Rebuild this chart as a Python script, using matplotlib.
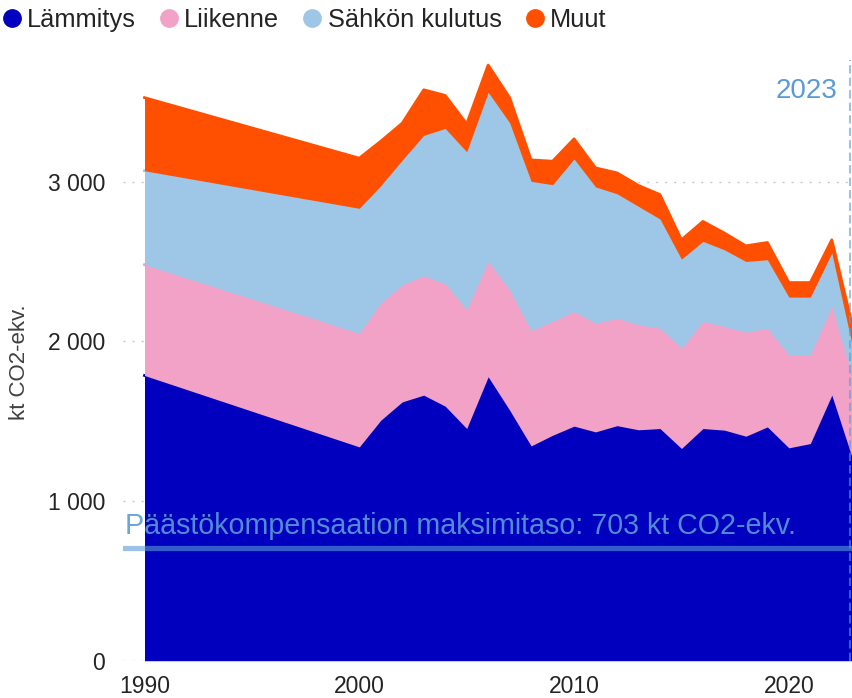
# Stacked area chart of emissions by sector (kt CO2-ekv.)

import numpy as np
import matplotlib.pyplot as plt
from matplotlib.lines import Line2D

plt.rcParams['font.family'] = ['Liberation Sans', 'DejaVu Sans']

years = [1990, 2000, 2001, 2002, 2003, 2004, 2005, 2006, 2007, 2008, 2009, 2010, 2011,
         2012, 2013, 2014, 2015, 2016, 2017, 2018, 2019, 2020, 2021, 2022, 2023]
lammitys = [1786, 1339, 1506, 1621, 1663, 1594, 1454, 1778, 1569, 1345, 1412, 1469, 1433,
            1472, 1446, 1454, 1329, 1454, 1444, 1406, 1464, 1333, 1360, 1663, 1250]
liikenne = [694, 711, 733, 733, 747, 766, 743, 722, 753, 722, 712, 717, 680,
            673, 657, 628, 627, 670, 648, 651, 618, 581, 554, 555, 507]
sahkon_kulutus = [588, 783, 736, 781, 880, 973, 990, 1060, 1047, 935, 857, 956, 854,
                  779, 742, 684, 559, 502, 481, 443, 429, 363, 363, 335, 189]
muut = [458, 314, 278, 231, 285, 207, 175, 170, 157, 134, 147, 126, 119,
        131, 131, 153, 121, 125, 105, 98, 108, 91, 91, 83, 130]

series = ['Lämmitys', 'Liikenne', 'Sähkön kulutus', 'Muut']
colors = ['#0000BE', '#F3A2C7', '#9DC6E7', '#FE5000']

kompensaatio = 703      # max level of emission compensation
marker_year = 2023

fig = plt.figure(figsize=(8.52, 6.98), dpi=100)
ax = fig.add_axes([0.1444, 0.0534, 0.8556, 0.8607])

x = np.array(years)
data = np.array([lammitys, liikenne, sahkon_kulutus, muut], dtype=float)
tops = np.cumsum(data, axis=0)

# Dotted grid behind the areas
for v in [0, 1000, 2000, 3000]:
    ax.axhline(v, color='#C8C8C8', lw=1, linestyle=(0, (1.5, 5)), zorder=0)

bottom = np.zeros(len(years))
for k in range(4):
    ax.fill_between(x, bottom, tops[k], color=colors[k], lw=0, zorder=1 + k)
    ax.plot(x, tops[k], color=colors[k], lw=2, zorder=1 + k, solid_joinstyle='round')
    bottom = tops[k]

# Reference line
ax.axhline(kompensaatio, color='#5B9BD5', alpha=0.6, lw=3.8, zorder=10)
ax.text(1989.1, 791, f'Päästökompensaation maksimitaso: {kompensaatio} kt CO2-ekv.',
        color='#5B9BD5', alpha=0.9, fontsize=20.6, va='baseline', ha='left', zorder=11)

# Year marker
ax.axvline(2022.85, color='#5B9BD5', alpha=0.6, lw=1.5, linestyle=(0, (4, 2)), zorder=10)
ax.text(2022.28, 3565, str(marker_year), color='#5B9BD5', fontsize=20,
        ha='right', va='center', zorder=11)

ax.set_xlim(1989, 2022.94)
ax.set_ylim(0, 3762)
ax.set_xticks([1990, 2000, 2010, 2020])
ax.set_yticks([0, 1000, 2000, 3000])
ax.set_yticklabels(['0', '1 000', '2 000', '3 000'])
ax.tick_params(axis='both', length=0, labelsize=16.5, colors='#252423')
ax.tick_params(axis='y', pad=13)
ax.tick_params(axis='x', pad=10)
for s in ax.spines.values():
    s.set_visible(False)

fig.text(20 / 852, 1 - 362 / 698, 'kt CO2-ekv.', rotation=90, ha='center', va='center',
         fontsize=16, color='#404040')

handles = [Line2D([], [], marker='o', linestyle='none', markersize=12.5,
                  markerfacecolor=c, markeredgecolor=c) for c in colors]
fig.legend(handles, series, loc='upper left', bbox_to_anchor=(-0.022, 1.01), ncol=4,
           frameon=False, fontsize=18.3, handletextpad=0.0, columnspacing=0.7,
           handlelength=1.2, labelcolor='#252423', borderaxespad=0.2)

plt.savefig('out.png', dpi=100)
plt.close(fig)
